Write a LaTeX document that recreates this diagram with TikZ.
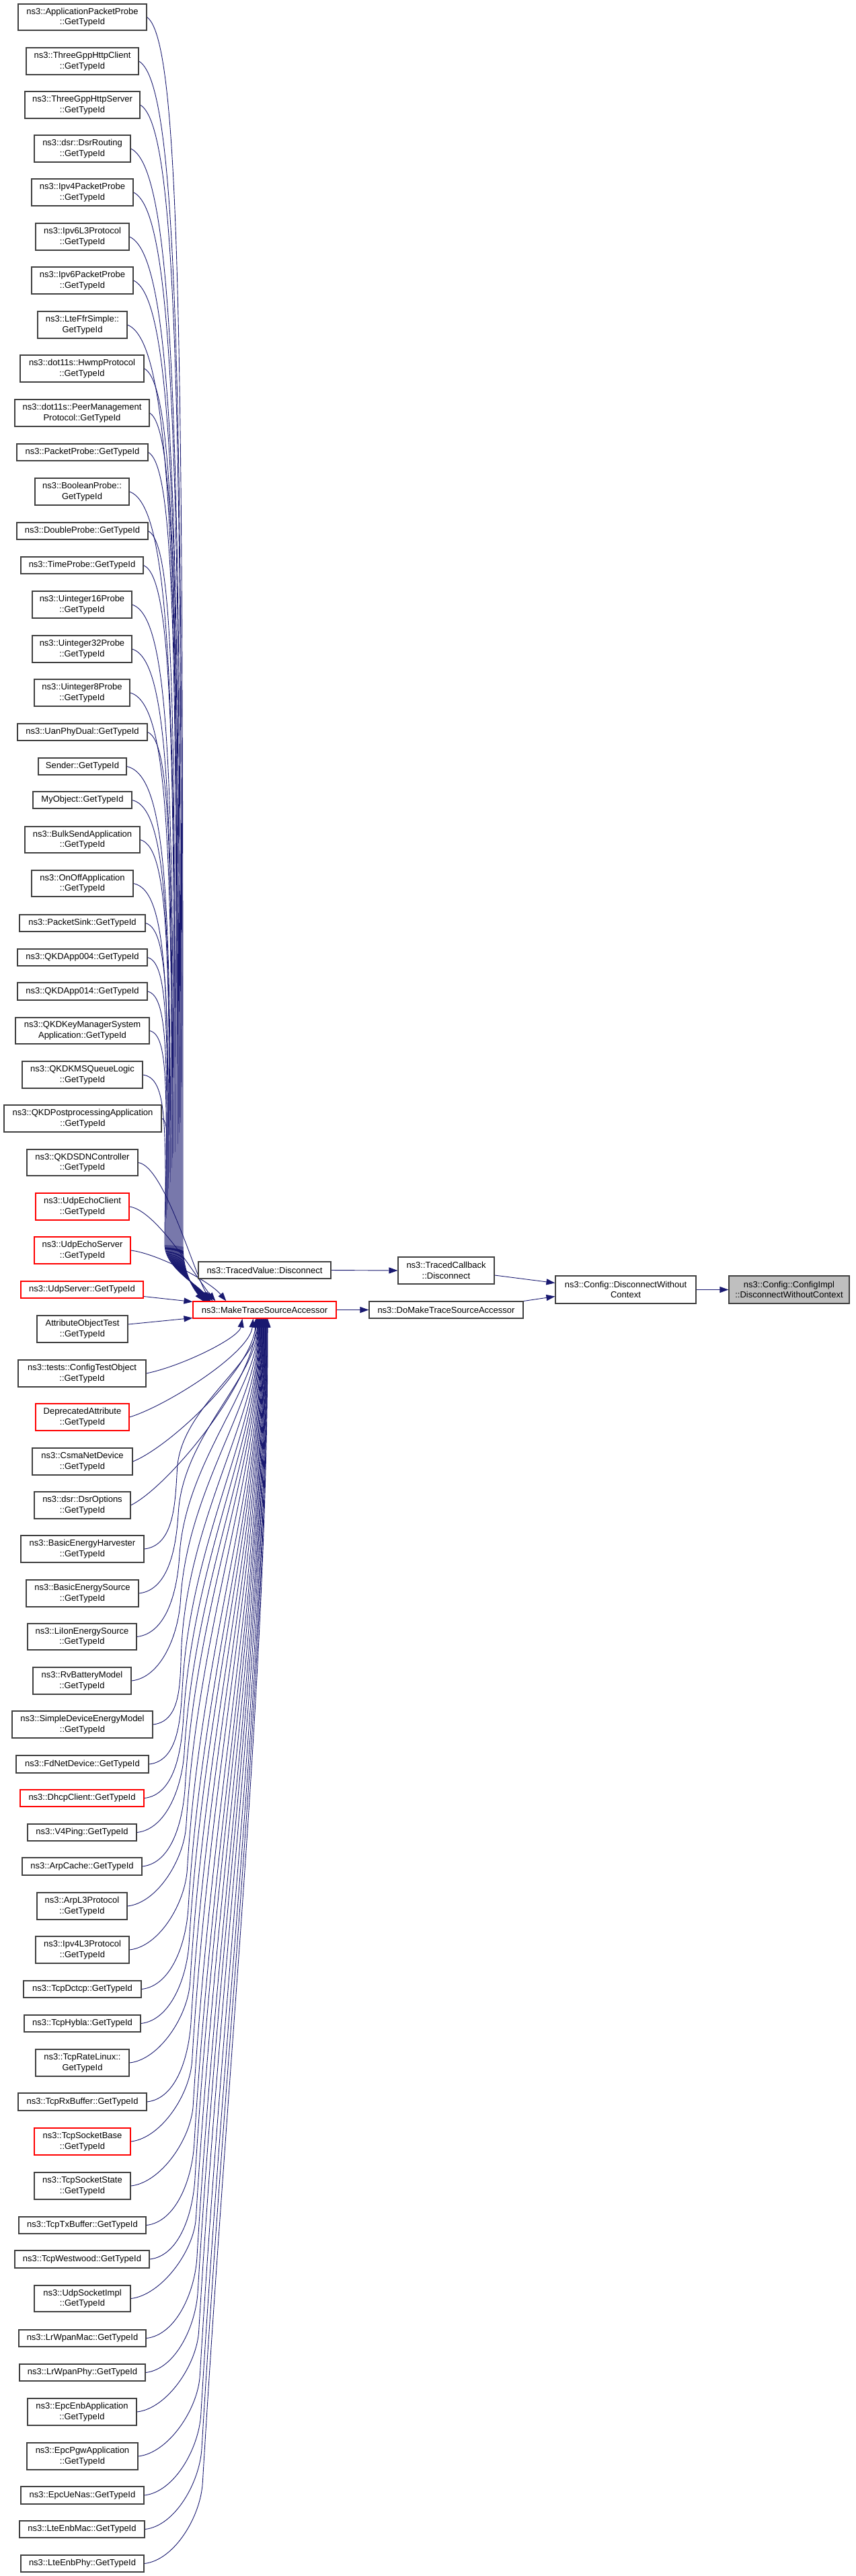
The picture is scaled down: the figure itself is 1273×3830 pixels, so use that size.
\documentclass[tikz,border=0pt]{standalone}
\usepackage{fontspec}
\setmainfont{Liberation Sans}
\usetikzlibrary{calc,arrows.meta}
\definecolor{edgec}{HTML}{191970}
\definecolor{bordc}{HTML}{404040}
\definecolor{redc}{HTML}{FF0000}
\definecolor{grayf}{HTML}{BFBFBF}
\pgfdeclarelayer{bg}
\pgfsetlayers{bg,main}
\tikzset{
  nbox/.style={draw=bordc, line width=1.1pt, fill=white, inner sep=0pt, align=center,
    font=\fontsize{13}{15.5}\selectfont},
  redbox/.style={draw=redc},
  graybox/.style={fill=grayf},
  conn/.style={draw=edgec, line width=0.9pt, -{Triangle[length=13pt,width=9pt]}}
}
\newcommand\NB[7][]{%
  \pgfmathsetmacro\nbw{#5-#3}%
  \pgfmathsetmacro\nbh{#6-#4}%
  \pgfmathsetmacro\nbx{(#3+#5)/2}%
  \pgfmathsetmacro\nby{-(#4+#6)/2}%
  \node[nbox,#1,minimum width=\nbw pt,minimum height=\nbh pt] (#2) at (\nbx pt,\nby pt) {#7};}
% upper caller, two segments: #1 node, #2 x of vertical run, #3 target offset
\newcommand\UpTwo[3]{\draw[conn] let \p1=(#1.east), \p2=($(mtsa.north west)+(#3,0)$), \n1={\y1+1850}, \n3={0.2*\x1+0.8*#2+10} in
  (\p1) .. controls (\n3, \y1-0.02*\n1) and (#2, \y1-0.3*\n1) .. (#2,-1850)
  .. controls (#2,-1885) and (\x2-20,\y2+25) .. (\p2);}
% upper caller close to the target: #1 node, #2 target offset
\newcommand\UpOne[2]{\draw[conn] let \p1=(#1.east), \p2=($(mtsa.north west)+(#2,0)$) in
  (\p1) .. controls (\x1+40,\y1-5) and (\x2-25,\y2+30) .. (\p2);}
% lower caller close to the target
\newcommand\DnOne[2]{\draw[conn] let \p1=(#1.east), \p2=($(mtsa.south west)+(#2,0)$), \n1={\y2-\y1} in
  (\p1) .. controls (\x1+55,\y1+0.08*\n1+5) and (\x2-5,\y2-0.35*\n1) .. (\p2);}
% lower caller, two segments
\newcommand\DnTwo[2]{\draw[conn] let \p1=(#1.east), \p2=($(mtsa.south west)+(#2,0)$),
  \n2={-1960-\y1}, \p3=(255+0.025*\n2,\y1+120), \n1={\y2-\y3} in
  (\p1) .. controls (\x1+45,\y1+5) and (\x3-3,\y3-50) .. (\p3)
  .. controls (\x3+0.024*\n1,\y3+0.4*\n1) and (\x2,\y2-0.3*\n1) .. (\p2);}
\begin{document}
\begin{tikzpicture}[x=1pt,y=1pt]
\useasboundingbox (0,0) rectangle (1273,-3830);
% upper callers
\NB{app}{27}{6}{218}{45}{ns3::ApplicationPacketProbe\\::GetTypeId}
\NB{tgc}{39}{71}{206}{111}{ns3::ThreeGppHttpClient\\::GetTypeId}
\NB{tgs}{37}{136}{208}{176}{ns3::ThreeGppHttpServer\\::GetTypeId}
\NB{dsrr}{51}{201}{194}{241}{ns3::dsr::DsrRouting\\::GetTypeId}
\NB{ip4pp}{47}{266}{198}{306}{ns3::Ipv4PacketProbe\\::GetTypeId}
\NB{ip6l3}{53}{332}{192}{372}{ns3::Ipv6L3Protocol\\::GetTypeId}
\NB{ip6pp}{47}{397}{198}{437}{ns3::Ipv6PacketProbe\\::GetTypeId}
\NB{lteffr}{56}{463}{189}{503}{ns3::LteFfrSimple::\\GetTypeId}
\NB{hwmp}{30}{528}{214}{568}{ns3::dot11s::HwmpProtocol\\::GetTypeId}
\NB{peer}{22}{594}{222}{634}{ns3::dot11s::PeerManagement\\Protocol::GetTypeId}
\NB{pp}{25}{660}{220}{685}{ns3::PacketProbe::GetTypeId}
\NB{bool}{52}{711}{192}{751}{ns3::BooleanProbe::\\GetTypeId}
\NB{dbl}{25}{777}{220}{802}{ns3::DoubleProbe::GetTypeId}
\NB{time}{31}{828}{213}{853}{ns3::TimeProbe::GetTypeId}
\NB{u16}{48}{879}{196}{919}{ns3::Uinteger16Probe\\::GetTypeId}
\NB{u32}{48}{945}{196}{985}{ns3::Uinteger32Probe\\::GetTypeId}
\NB{u8}{51}{1010}{193}{1050}{ns3::Uinteger8Probe\\::GetTypeId}
\NB{uan}{26}{1076}{219}{1101}{ns3::UanPhyDual::GetTypeId}
\NB{sender}{57}{1127}{188}{1152}{Sender::GetTypeId}
\NB{myobj}{49}{1177}{196}{1202}{MyObject::GetTypeId}
\NB{bulk}{37}{1229}{208}{1268}{ns3::BulkSendApplication\\::GetTypeId}
\NB{onoff}{47}{1294}{198}{1333}{ns3::OnOffApplication\\::GetTypeId}
\NB{sink}{29}{1360}{216}{1385}{ns3::PacketSink::GetTypeId}
\NB{qkdA}{26}{1411}{219}{1436}{ns3::QKDApp004::GetTypeId}
\NB{qkdB}{26}{1461}{219}{1487}{ns3::QKDApp014::GetTypeId}
\NB{qkdkms}{23}{1513}{222}{1552}{ns3::QKDKeyManagerSystem\\Application::GetTypeId}
\NB{qkdq}{33}{1578}{212}{1618}{ns3::QKDKMSQueueLogic\\::GetTypeId}
\NB{qkdpp}{6}{1643}{240}{1683}{ns3::QKDPostprocessingApplication\\::GetTypeId}
\NB{qkdsdn}{40}{1709}{205}{1748}{ns3::QKDSDNController\\::GetTypeId}
\NB[redbox]{uec}{53}{1774}{192}{1814}{ns3::UdpEchoClient\\::GetTypeId}
\NB[redbox]{ues}{51}{1839}{194}{1879}{ns3::UdpEchoServer\\::GetTypeId}
\NB[redbox]{us}{31}{1905}{213}{1930}{ns3::UdpServer::GetTypeId}
\NB{aot}{55}{1956}{190}{1996}{AttributeObjectTest\\::GetTypeId}
% lower callers
\NB{cto}{27}{2022}{217}{2062}{ns3::tests::ConfigTestObject\\::GetTypeId}
\NB[redbox]{depr}{53}{2087}{192}{2127}{DeprecatedAttribute\\::GetTypeId}
\NB{csma}{48}{2153}{197}{2193}{ns3::CsmaNetDevice\\::GetTypeId}
\NB{dsro}{51}{2218}{194}{2258}{ns3::dsr::DsrOptions\\::GetTypeId}
\NB{beh}{31}{2283}{214}{2323}{ns3::BasicEnergyHarvester\\::GetTypeId}
\NB{bes}{39}{2349}{206}{2389}{ns3::BasicEnergySource\\::GetTypeId}
\NB{liion}{41}{2414}{203}{2453}{ns3::LiIonEnergySource\\::GetTypeId}
\NB{rv}{49}{2479}{195}{2519}{ns3::RvBatteryModel\\::GetTypeId}
\NB{sdem}{18}{2544}{227}{2584}{ns3::SimpleDeviceEnergyModel\\::GetTypeId}
\NB{fd}{24}{2610}{221}{2636}{ns3::FdNetDevice::GetTypeId}
\NB[redbox]{dhcp}{30}{2661}{214}{2686}{ns3::DhcpClient::GetTypeId}
\NB{v4}{41}{2712}{203}{2737}{ns3::V4Ping::GetTypeId}
\NB{arpc}{33}{2762}{211}{2788}{ns3::ArpCache::GetTypeId}
\NB{arpl3}{55}{2814}{189}{2854}{ns3::ArpL3Protocol\\::GetTypeId}
\NB{ip4l3}{53}{2879}{192}{2919}{ns3::Ipv4L3Protocol\\::GetTypeId}
\NB{dctcp}{35}{2945}{210}{2970}{ns3::TcpDctcp::GetTypeId}
\NB{hybla}{36}{2996}{209}{3021}{ns3::TcpHybla::GetTypeId}
\NB{ratel}{53}{3047}{192}{3087}{ns3::TcpRateLinux::\\GetTypeId}
\NB{rxb}{27}{3112}{218}{3138}{ns3::TcpRxBuffer::GetTypeId}
\NB[redbox]{tsb}{51}{3164}{194}{3204}{ns3::TcpSocketBase\\::GetTypeId}
\NB{tss}{51}{3230}{194}{3270}{ns3::TcpSocketState\\::GetTypeId}
\NB{txb}{28}{3296}{217}{3321}{ns3::TcpTxBuffer::GetTypeId}
\NB{westw}{22}{3346}{222}{3372}{ns3::TcpWestwood::GetTypeId}
\NB{usi}{51}{3398}{194}{3437}{ns3::UdpSocketImpl\\::GetTypeId}
\NB{lrmac}{28}{3464}{217}{3489}{ns3::LrWpanMac::GetTypeId}
\NB{lrphy}{29}{3515}{216}{3540}{ns3::LrWpanPhy::GetTypeId}
\NB{epcenb}{41}{3566}{203}{3606}{ns3::EpcEnbApplication\\::GetTypeId}
\NB{epcpgw}{40}{3632}{205}{3672}{ns3::EpcPgwApplication\\::GetTypeId}
\NB{epcue}{31}{3697}{214}{3723}{ns3::EpcUeNas::GetTypeId}
\NB{ltemac}{29}{3748}{215}{3773}{ns3::LteEnbMac::GetTypeId}
\NB{ltephy}{31}{3799}{214}{3824}{ns3::LteEnbPhy::GetTypeId}
% right part
\NB[redbox]{mtsa}{287}{1935}{500}{1960}{ns3::MakeTraceSourceAccessor}
\NB{tv}{295}{1876}{492}{1901}{ns3::TracedValue::Disconnect}
\NB{tc}{592}{1869}{735}{1909}{ns3::TracedCallback\\::Disconnect}
\NB{domake}{549}{1935}{778}{1960}{ns3::DoMakeTraceSourceAccessor}
\NB{cdwc}{826}{1897}{1035}{1938}{ns3::Config::DisconnectWithout\\Context}
\NB[graybox]{cimpl}{1084}{1897}{1263}{1938}{ns3::Config::ConfigImpl\\::DisconnectWithoutContext}
% edges
\begin{pgfonlayer}{bg}
\fill[white] (0,0) rectangle (1273,-3830);
\foreach \nm [count=\ii from 0] in {app,tgc,tgs,dsrr,ip4pp,ip6l3,ip6pp,lteffr,hwmp,peer,pp,bool,dbl,time,u16,u32,u8,uan,sender,myobj,bulk,onoff,sink,qkdA,qkdB,qkdkms,qkdq,qkdpp}
  {\pgfmathsetmacro\xpv{272-1.0*\ii}\pgfmathsetmacro\ofv{16+0.4*\ii}\UpTwo{\nm}{\xpv}{\ofv}}
\UpOne{qkdsdn}{30}
\UpOne{uec}{34}
\UpOne{ues}{50}
\DnOne{cto}{74}
\DnOne{depr}{90}
\DnOne{csma}{94}
\DnOne{dsro}{95}
\foreach \nm [count=\ii from 0] in {beh,bes,liion,rv,sdem,fd,dhcp,v4,arpc,arpl3,ip4l3,dctcp,hybla,ratel,rxb,tsb,tss,txb,westw,usi,lrmac,lrphy,epcenb,epcpgw,epcue,ltemac,ltephy}
  {\pgfmathsetmacro\ofv{96+0.6*\ii}\DnTwo{\nm}{\ofv}}
\draw[conn] ($(us.east)+(0,-10)$) -- ($(mtsa.north west)+(0,-1)$);
\draw[conn] ($(aot.east)+(0,7)$) -- ($(mtsa.south west)+(0,1)$);
\draw[conn] (mtsa.east) -- (domake.west);
\draw[conn] (tv.east) -- (tc.west);
\draw[conn] ($(tc.east)+(0,-7)$) -- ($(cdwc.west)+(0,10)$);
\draw[conn] (domake.north east) -- ($(cdwc.west)+(0,-10)$);
\draw[conn] (cdwc.east) -- (cimpl.west);
\end{pgfonlayer}
\end{tikzpicture}
\end{document}
